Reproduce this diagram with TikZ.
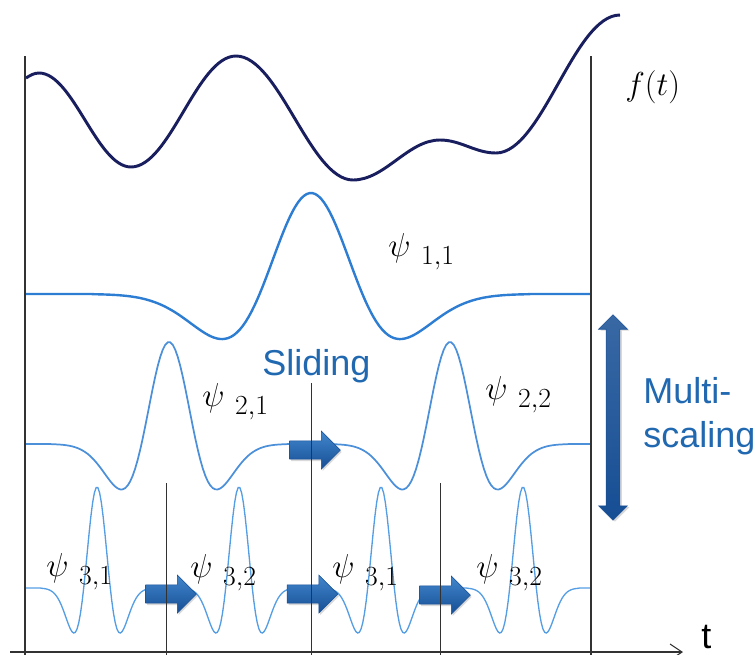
\documentclass[tikz,border=0pt]{standalone}
\usepackage{fontspec}
\newfontfamily\labelfont{Liberation Sans}
\usepackage{xcolor}
\definecolor{navy}{RGB}{24,30,94}
\definecolor{coal}{RGB}{50,50,50}
\definecolor{wave}{RGB}{45,125,210}
\definecolor{wavelight}{RGB}{85,158,228}
\definecolor{slideblue}{RGB}{32,104,176}
\definecolor{arrowtop}{RGB}{66,135,205}
\definecolor{arrowbot}{RGB}{22,78,148}
\usepackage{tikz}
\usetikzlibrary{arrows.meta,shapes.arrows,shadows}
\newcommand{\psilab}[1]{$\psi$\hspace{8pt}\raisebox{-6pt}{$\scriptstyle #1$}}
\tikzset{
  signal/.style={draw=navy, line width=2.2pt},
  wavebig/.style={draw=wave, line width=1.8pt},
  wavemid/.style={draw=wave!85!white, line width=1.3pt},
  wavesmall/.style={draw=wavelight, line width=1pt},
  gridline/.style={draw=coal, line width=0.9pt},
  tickline/.style={draw=coal, line width=0.7pt},
  wavelabel/.style={anchor=base west, inner sep=0pt, font=\Huge, text=black},
  bluetext/.style={anchor=base west, inner sep=0pt, text=slideblue,
                   font=\labelfont\fontsize{27}{32}\selectfont},
  slidearrow/.style={single arrow, inner xsep=0pt, inner ysep=6.6pt,
                     minimum height=38pt, single arrow head extend=7.5pt,
                     top color=arrowtop, bottom color=arrowbot,
                     draw=arrowbot, line width=0.4pt,
                     drop shadow={shadow xshift=1pt, shadow yshift=-1.5pt, opacity=0.3}},
  scalearrow/.style={double arrow, rotate=90, inner xsep=0pt, inner ysep=5pt,
                     minimum height=154pt, double arrow head extend=5.6pt,
                     top color=arrowbot!85!white, bottom color=arrowbot,
                     draw=arrowbot, line width=0.4pt,
                     drop shadow={shadow xshift=1.5pt, shadow yshift=-1pt, opacity=0.3}},
}

\begin{document}
\begin{tikzpicture}[x=0.75pt, y=-0.75pt,
  declare function={mexhat(\u)=(1-\u*\u)*exp(-0.5*\u*\u);}]
\useasboundingbox (0,0) rectangle (756,654);

% signal
\draw[signal] (26,78) .. controls (30,75.5) and (34,73) .. (39,73)
  .. controls (73,73) and (97,167) .. (131,167)
  .. controls (170,167) and (197,56) .. (236,56)
  .. controls (279,56) and (310,180) .. (353,180)
  .. controls (385,180) and (408,140) .. (440,140)
  .. controls (461,140) and (475,153) .. (496,153)
  .. controls (542,153) and (574,15) .. (620,15);

% wavelets, three scales
\draw[wavebig] (26,294) -- (80,294)
  -- plot[domain=80:542, samples=160] (\x,{294-101*mexhat((\x-311)/51.4)})
  -- (591,294);
\draw[wavemid] (26,444) \foreach \c in {169,450}{
  -- plot[domain=\c-124:\c+124, samples=100] (\x,{444-102*mexhat((\x-\c)/27.5)}) }
  -- (591,444);
\draw[wavesmall] (26,588) \foreach \c in {97,239,381,523}{
  -- plot[domain=\c-60:\c+60, samples=70] (\x,{588-101*mexhat((\x-\c)/13.3)}) }
  -- (591,588);

% sliding arrows
\node[slidearrow] (slide2) at (310.5,450) {};
\node[slidearrow] (slide31) at (166.5,594) {};
\node[slidearrow] (slide32) at (308,594) {};
\node[slidearrow] (slide33) at (440.5,595) {};
\node[scalearrow] (scale) at (613,417.5) {};

% frame and time axis
\draw[gridline] (25,56) -- (25,655);
\draw[gridline] (591,56) -- (591,655);
\foreach \xx/\yy in {166/483, 311/383, 440/483}
  \draw[tickline] (\xx,\yy) -- (\xx,655);
\coordinate (axstart) at (10,652);
\coordinate (axend) at (683,652);
\draw[coal, line width=0.8pt, -{Straight Barb[length=9pt,width=12pt]}] (axstart) -- (axend);
\node[anchor=base west, inner sep=0pt, font=\labelfont\fontsize{27}{32}\selectfont] (tlabel) at (701,648) {t};

% labels
\node[wavelabel] (flabel) at (625,95) {$f(t)$};
\node[wavelabel] (psi11) at (388,256) {\psilab{1,1}};
\node[wavelabel] (psi21) at (202,406) {\psilab{2,1}};
\node[wavelabel] (psi22) at (485,399) {\psilab{2,2}};
\node[wavelabel] (psi31a) at (46,576) {\psilab{3,1}};
\node[wavelabel] (psi32a) at (190,577) {\psilab{3,2}};
\node[wavelabel] (psi31b) at (332,577) {\psilab{3,1}};
\node[wavelabel] (psi32b) at (476,577) {\psilab{3,2}};
\node[bluetext] (sliding) at (262,375) {Sliding};
\node[bluetext] (multi) at (643,403) {Multi-};
\node[bluetext] (scaling) at (643,447) {scaling};
\end{tikzpicture}
\end{document}
